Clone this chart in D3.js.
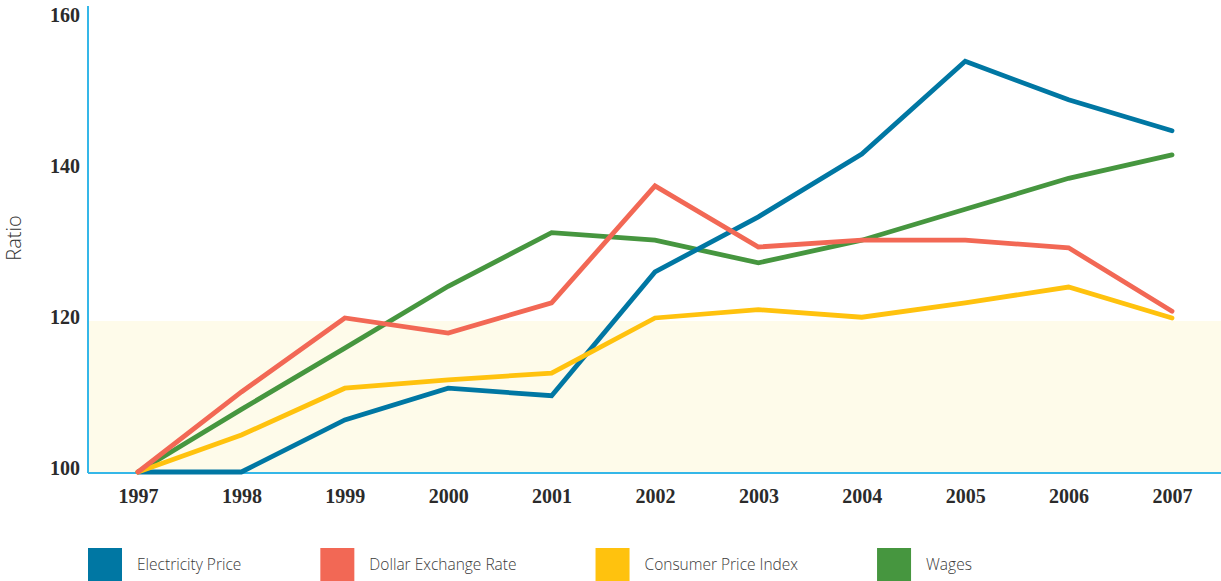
<!DOCTYPE html>
<html>
<head>
<meta charset="utf-8">
<script src="https://cdn.jsdelivr.net/npm/d3@7"></script>
<style>
  body { margin: 0; background: #fff; }
  svg { display: block; }
</style>
</head>
<body>
<div id="chart"></div>
<script>
// data
const years = ['1997', '1998', '1999', '2000', '2001', '2002', '2003', '2004', '2005', '2006', '2007'];
const electricity = [100, 100, 106.9, 111.1, 110.1, 126.5, 133.8, 142.1, 154.4, 149.3, 145.2];
const dollar = [100, 110.6, 120.4, 118.4, 122.4, 137.9, 129.8, 130.7, 130.7, 129.7, 121.3];
const cpi = [100, 104.9, 111.1, 112.2, 113.1, 120.4, 121.5, 120.5, 122.4, 124.5, 120.4];
const wages = [100, 108.3, 116.4, 124.6, 131.7, 130.7, 127.7, 130.7, 134.8, 138.9, 142];
const y_ticks = [100, 120, 140, 160];
const band = [100, 120];

const series = [
    {name: 'Electricity Price', values: electricity, color: '#0077a3'},
    {name: 'Dollar Exchange Rate', values: dollar, color: '#f26855'},
    {name: 'Consumer Price Index', values: cpi, color: '#ffc20e'},
    {name: 'Wages', values: wages, color: '#46963f'}
];
// drawing order (last on top)
const draw_order = ['Wages', 'Electricity Price', 'Consumer Price Index', 'Dollar Exchange Rate'];

const width = 1221;
const height = 581;
const axis_x = 88;
const axis_y = 473;
const axis_color = '#35b7e8';
const tick_font = '"Liberation Serif", serif';
const label_font = '"Open Sans", sans-serif';

const svg = d3.select('#chart')
    .append('svg')
    .attr('width', width)
    .attr('height', height);

const x_scale = d3.scalePoint()
    .domain(years)
    .range([138, 1172]);

const y_scale = d3.scaleLinear()
    .domain([100, 160])
    .range([472, 19]);

// cream band
svg.append('rect')
    .attr('x', axis_x + 1)
    .attr('y', y_scale(band[1]))
    .attr('width', width - axis_x - 1)
    .attr('height', y_scale(band[0]) - y_scale(band[1]))
    .attr('fill', '#fefbea');

// axes
const y_axis = svg.append('g')
    .attr('transform', `translate(${axis_x - 8}, 0)`)
    .call(d3.axisLeft(y_scale).tickValues(y_ticks).tickSize(0).tickPadding(0));
y_axis.select('.domain').remove();
y_axis.selectAll('text')
    .attr('dy', '0.1em')
    .attr('font-family', tick_font)
    .attr('font-weight', 'bold')
    .attr('font-size', 20)
    .attr('fill', '#2b2b2b');

const x_axis = svg.append('g')
    .attr('transform', `translate(0, ${axis_y})`)
    .call(d3.axisBottom(x_scale).tickSize(0).tickPadding(16));
x_axis.select('.domain').remove();
x_axis.selectAll('text')
    .attr('font-family', tick_font)
    .attr('font-weight', 'bold')
    .attr('font-size', 20)
    .attr('fill', '#2b2b2b');

svg.append('line')
    .attr('x1', axis_x).attr('x2', axis_x)
    .attr('y1', 6).attr('y2', axis_y)
    .attr('stroke', axis_color)
    .attr('stroke-width', 2);

svg.append('line')
    .attr('x1', axis_x).attr('x2', width)
    .attr('y1', axis_y).attr('y2', axis_y)
    .attr('stroke', axis_color)
    .attr('stroke-width', 2);

// y label
svg.append('text')
    .attr('transform', `translate(21, 238) rotate(-90)`)
    .attr('text-anchor', 'middle')
    .attr('font-family', label_font)
    .attr('font-weight', 300)
    .attr('font-size', 20)
    .attr('fill', '#333')
    .text('Ratio');

// lines
const line = d3.line()
    .x((d, i) => x_scale(years[i]))
    .y(d => y_scale(d));

draw_order.forEach(name => {
    const s = series.find(d => d.name === name);
    svg.append('path')
        .datum(s.values)
        .attr('d', line)
        .attr('fill', 'none')
        .attr('stroke', s.color)
        .attr('stroke-width', 4.8)
        .attr('stroke-linejoin', 'miter')
        .attr('stroke-linecap', 'round');
});

// legend
const legend = svg.append('g').attr('class', 'legend');
let lx = axis_x;
series.forEach(s => {
    legend.append('rect')
        .attr('x', lx)
        .attr('y', 548)
        .attr('width', 34)
        .attr('height', 33)
        .attr('fill', s.color);
    const t = legend.append('text')
        .attr('x', lx + 49)
        .attr('y', 565)
        .attr('dy', '0.35em')
        .attr('font-family', label_font)
        .attr('font-weight', 300)
        .attr('font-size', 15.5)
        .attr('fill', '#3a3a3a')
        .text(s.name);
    lx = lx + 49 + t.node().getComputedTextLength() + 79;
});
</script>
</body>
</html>
